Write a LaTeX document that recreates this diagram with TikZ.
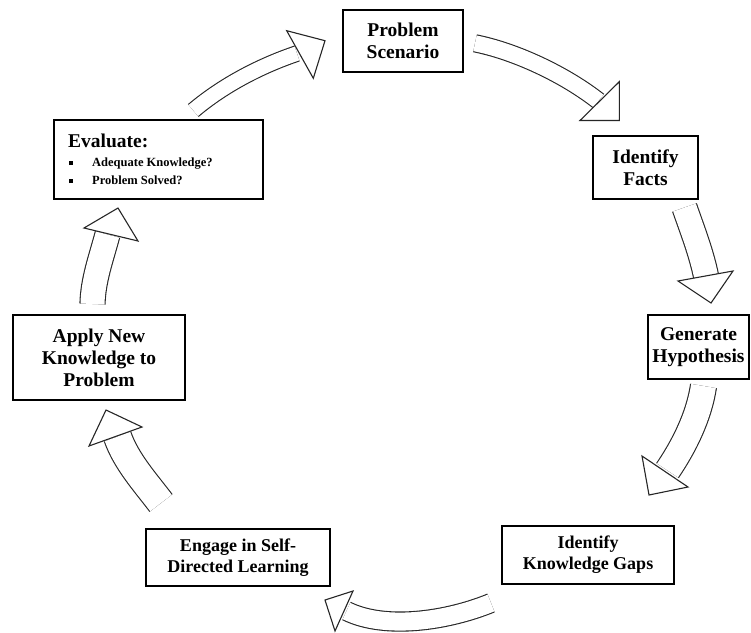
\documentclass[tikz,border=0pt]{standalone}
\usepackage{fontspec}
\setmainfont{Liberation Serif}
\begin{document}
\begin{tikzpicture}[x=1pt,y=-1pt,
  box/.style={draw=black, line width=1.4pt, fill=white, inner sep=0pt, align=center, font=\bfseries\fontsize{19.5}{22}\selectfont},
  lowbox/.style={box, font=\bfseries\fontsize{18}{21}\selectfont},
  evtext/.style={anchor=base west, inner sep=0pt, font=\bfseries\fontsize{12.5}{14}\selectfont},
  shaft/.style={draw=black!85, line width=1.1pt, double=white},
  head/.style={draw=black!85, line width=1.1pt, fill=white, line join=miter}]
\fill[white] (0,0) rectangle (751,632);
\useasboundingbox (0,0) rectangle (751,632);

% boxes
\node[box, minimum width=120pt, minimum height=62pt] (ps) at (403,41) {Problem\\Scenario};
\node[box, minimum width=105pt, minimum height=63pt] (if) at (645.5,167.5) {Identify\\Facts};
\node[box, minimum width=101pt, minimum height=64pt] (gh) at (698.5,347) {Generate\\Hypothesis};
\node[lowbox, minimum width=172pt, minimum height=58pt] (kg) at (588,555) {Identify\\Knowledge Gaps};
\node[lowbox, minimum width=184pt, minimum height=57pt] (sdl) at (238,557.5) {Engage in Self-\\Directed Learning};
\node[box, minimum width=172pt, minimum height=85pt] (apply) at (99,357.5) {Apply New\\Knowledge to\\Problem};
\node[box, minimum width=209pt, minimum height=79pt] (eval) at (158.5,159.5) {};
\node[evtext, font=\bfseries\fontsize{19.5}{22}\selectfont] (evalT) at (68,147) {Evaluate:};
\node[evtext] (evalA) at (69,166) {\makebox[23pt][l]{\raisebox{1pt}{\rule{4pt}{4pt}}}Adequate Knowledge?};
\node[evtext] (evalB) at (69,184) {\makebox[23pt][l]{\raisebox{1pt}{\rule{4pt}{4pt}}}Problem Solved?};

% arrow coordinates
\coordinate (a1s) at (193.3,110.5); \coordinate (a1e) at (297,53.5);
\coordinate (a2s) at (475,43.3);    \coordinate (a2e) at (598.5,101);
\coordinate (a3s) at (684.5,207.5); \coordinate (a3e) at (706,276);
\coordinate (a4s) at (703.5,386);   \coordinate (a4e) at (667.5,470.5);
\coordinate (a5s) at (491,603);     \coordinate (a5e) at (346.5,611);
\coordinate (a6s) at (161,503);     \coordinate (a6e) at (117.5,436.5);
\coordinate (a7s) at (92.5,304);    \coordinate (a7e) at (107.5,234.5);

% Evaluate -> Problem Scenario
\draw[shaft, double distance=14.5pt] (a1s) .. controls (223,85.4) and (260,66) .. (a1e);
\draw[head] (286.7,30.7) -- (325,40.7) -- (313.3,78.3) -- cycle;
% Problem Scenario -> Identify Facts
\draw[shaft, double distance=16pt] (a2s) .. controls (516,51.5) and (565,74.8) .. (a2e);
\draw[head] (619.3,81.7) -- (619.3,120.5) -- (580,120.5) -- cycle;
% Identify Facts -> Generate Hypothesis
\draw[shaft, double distance=24pt] (a3s) .. controls (692.5,230.5) and (701,252) .. (a3e);
\draw[head] (678,281) -- (711,303) -- (733,271) -- cycle;
% Generate Hypothesis -> Knowledge Gaps
\draw[shaft, double distance=25pt] (a4s) .. controls (699,416) and (684.5,445.5) .. (a4e);
\draw[head] (642,456) -- (649,495) -- (688,487) -- cycle;
% Knowledge Gaps -> Self-Directed Learning
\draw[shaft, double distance=18pt] (a5s) .. controls (447,621) and (385,630) .. (a5e);
\draw[head] (353,591) -- (325,600) -- (335,631) -- cycle;
% Self-Directed Learning -> Apply
\draw[shaft, double distance=27pt] (a6s) .. controls (145,482) and (126,461) .. (a6e);
\draw[head] (89,446) -- (106,410) -- (142,427) -- cycle;
% Apply -> Evaluate
\draw[shaft, double distance=24pt] (a7s) .. controls (93,280) and (101.3,257.8) .. (a7e);
\draw[head] (84,228) -- (118,208) -- (138,241) -- cycle;
\end{tikzpicture}
\end{document}
